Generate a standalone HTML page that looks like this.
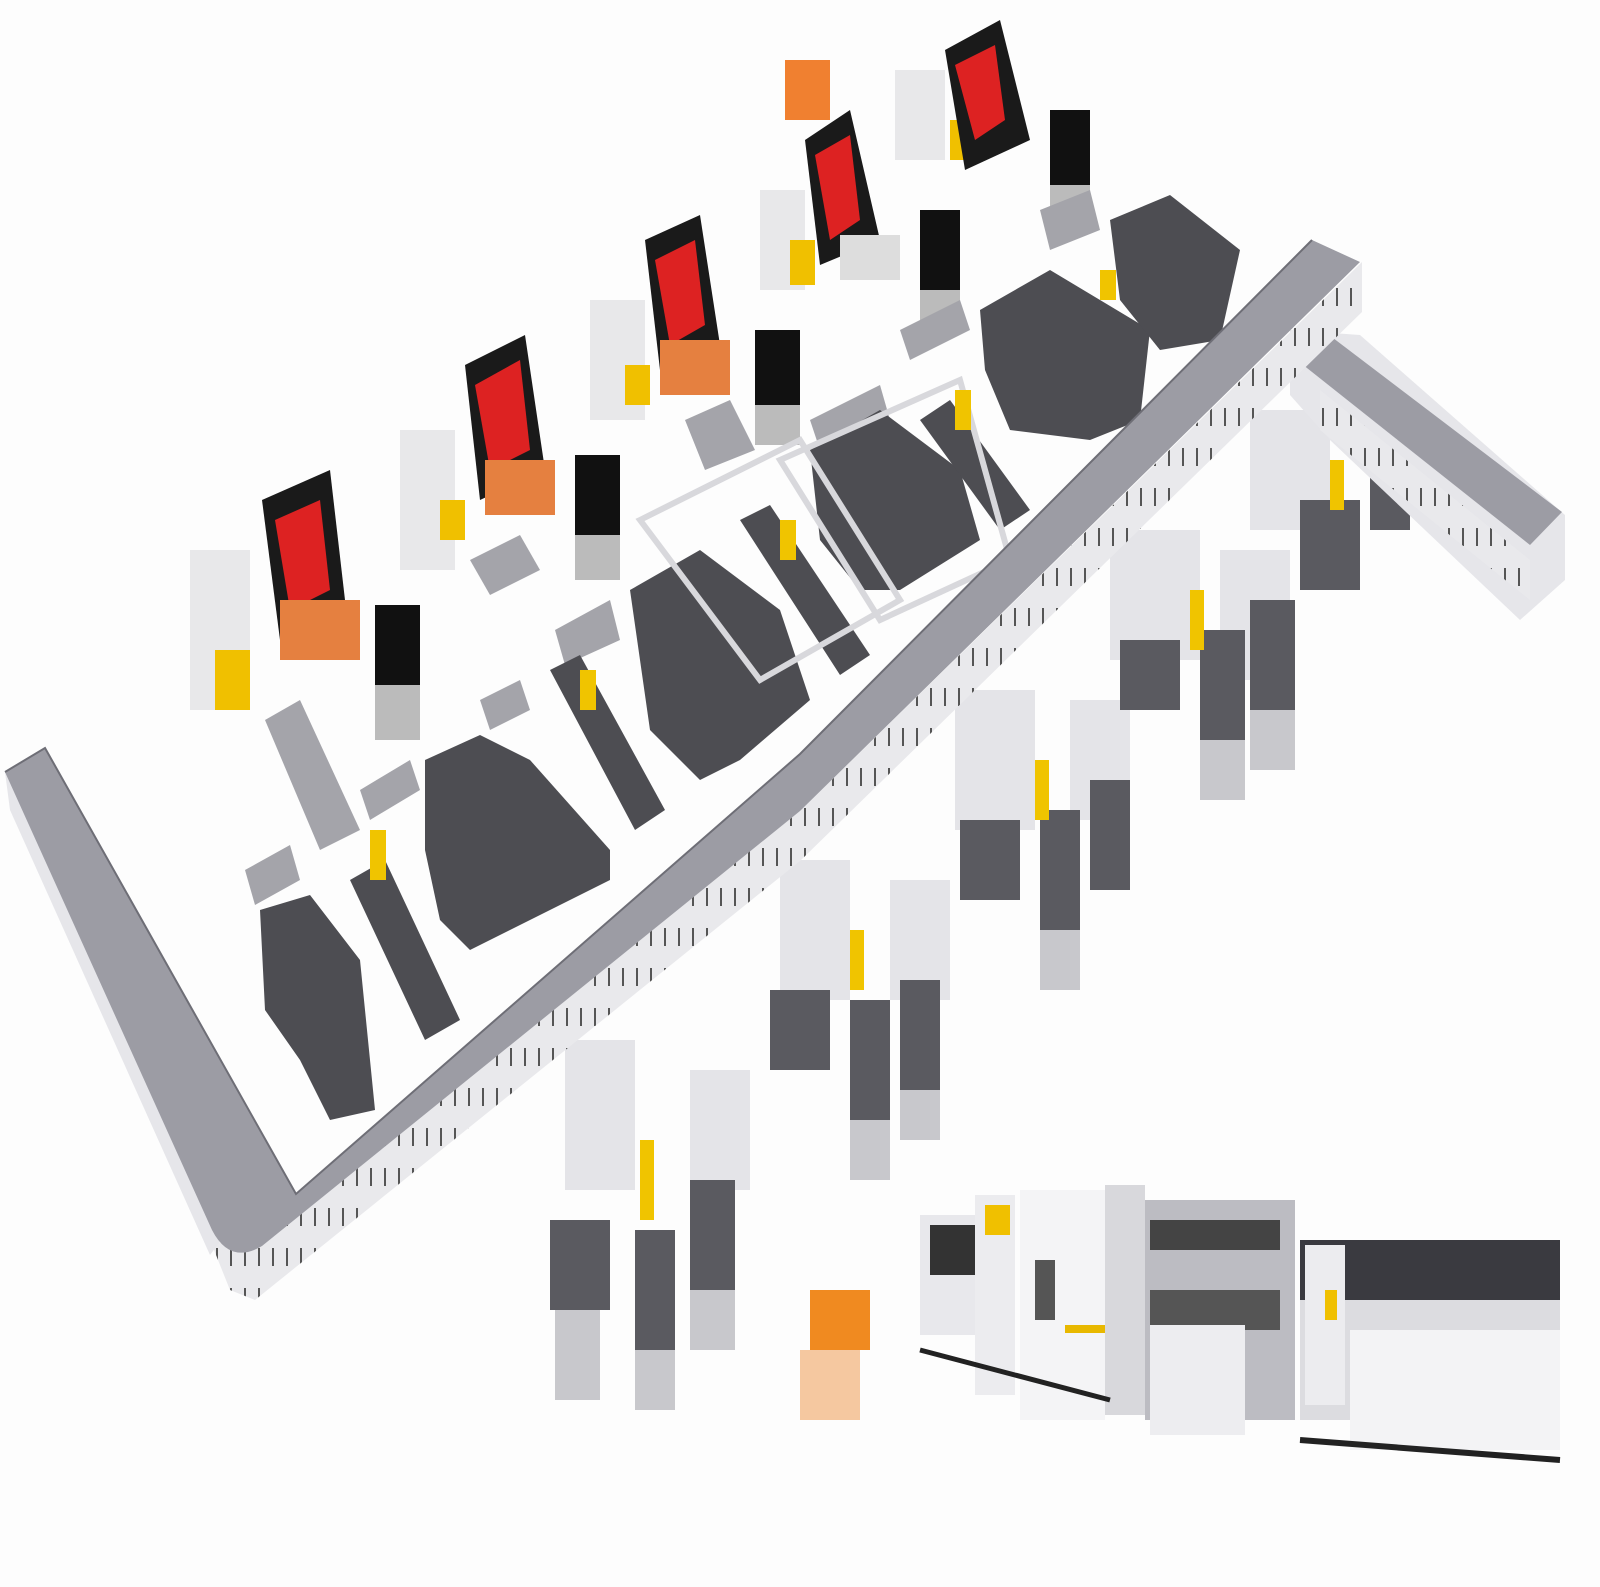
<!DOCTYPE html>
<html><head><meta charset="utf-8"><style>html,body{margin:0;padding:0;background:#fdfdfd}svg{display:block}</style></head>
<body>
<svg width="1600" height="1587" viewBox="0 0 1600 1587" xmlns="http://www.w3.org/2000/svg">
<rect width="1600" height="1587" fill="#fdfdfd"/>
<defs>
<pattern id="tk" width="14" height="40" patternUnits="userSpaceOnUse"><rect width="14" height="40" fill="#e9e9ec"/><rect x="6" y="8" width="2" height="18" fill="#555"/></pattern>
</defs>
<!-- top row stations: seats -->
<g>
<g transform="translate(0,0)">
<rect x="190" y="550" width="60" height="160" fill="#e8e8ea"/>
<rect x="215" y="650" width="35" height="60" fill="#f0c000"/>
<path d="M262 500 L330 470 L345 600 L280 640 Z" fill="#1a1a1a"/>
<path d="M275 520 L320 500 L330 590 L290 610 Z" fill="#d22"/>
<rect x="280" y="600" width="80" height="60" fill="#e58040"/>
<rect x="375" y="605" width="45" height="80" fill="#111"/>
<rect x="375" y="685" width="45" height="55" fill="#bbb"/>
</g>
<g>
<rect x="400" y="430" width="55" height="140" fill="#e8e8ea"/>
<rect x="440" y="500" width="25" height="40" fill="#f0c000"/>
<path d="M465 365 L525 335 L545 470 L480 500 Z" fill="#1a1a1a"/>
<path d="M475 385 L520 360 L530 450 L490 470 Z" fill="#d22"/>
<rect x="485" y="460" width="70" height="55" fill="#e58040"/>
<rect x="575" y="455" width="45" height="80" fill="#111"/>
<rect x="575" y="535" width="45" height="45" fill="#bbb"/>
</g>
<g>
<rect x="590" y="300" width="55" height="120" fill="#e8e8ea"/>
<rect x="625" y="365" width="25" height="40" fill="#f0c000"/>
<path d="M645 240 L700 215 L720 345 L660 370 Z" fill="#1a1a1a"/>
<path d="M655 260 L695 240 L705 325 L670 345 Z" fill="#d22"/>
<rect x="660" y="340" width="70" height="55" fill="#e58040"/>
<rect x="755" y="330" width="45" height="75" fill="#111"/>
<rect x="755" y="405" width="45" height="40" fill="#bbb"/>
</g>
<g>
<rect x="760" y="190" width="45" height="100" fill="#e8e8ea"/>
<rect x="790" y="240" width="25" height="45" fill="#f0c000"/>
<rect x="785" y="60" width="45" height="60" fill="#f08030"/>
<path d="M805 140 L850 110 L880 240 L820 265 Z" fill="#1a1a1a"/>
<path d="M815 155 L850 135 L860 220 L830 240 Z" fill="#d22"/>
<rect x="840" y="235" width="60" height="45" fill="#ddd"/>
<rect x="920" y="210" width="40" height="80" fill="#111"/>
<rect x="920" y="290" width="40" height="45" fill="#bbb"/>
</g>
<g>
<rect x="895" y="70" width="50" height="90" fill="#e8e8ea"/>
<rect x="950" y="120" width="25" height="40" fill="#f0c000"/>
<path d="M945 50 L1000 20 L1030 140 L965 170 Z" fill="#1a1a1a"/>
<path d="M955 65 L995 45 L1005 120 L975 140 Z" fill="#d22"/>
<rect x="1050" y="110" width="40" height="75" fill="#111"/>
<rect x="1050" y="185" width="40" height="40" fill="#bbb"/>
</g>
</g>
<!-- middle row gray bars and dark blocks -->
<g fill="#a4a4aa">
<polygon points="265,720 300,700 360,830 320,850"/>
<polygon points="360,790 410,760 420,790 370,820"/>
<polygon points="245,870 290,845 300,880 255,905"/>
<polygon points="470,560 520,535 540,570 490,595"/>
<polygon points="480,700 520,680 530,710 490,730"/>
<polygon points="555,630 610,600 620,640 565,665"/>
<polygon points="685,420 730,400 755,450 705,470"/>
<polygon points="810,420 880,385 890,420 820,450"/>
<polygon points="900,330 960,300 970,330 910,360"/>
<polygon points="1040,210 1090,190 1100,230 1050,250"/>
</g>
<g fill="#4d4d52">
<path d="M260 910 L310 895 L360 960 L375 1110 L330 1120 L300 1060 L265 1010 Z"/>
<polygon points="350,880 385,860 460,1020 425,1040"/>
<path d="M425 760 L480 735 L530 760 L610 850 L610 880 L470 950 L440 920 L425 850 Z"/>
<polygon points="550,670 580,655 665,810 635,830"/>
<path d="M630 590 L700 550 L780 610 L810 700 L740 760 L700 780 L650 730 Z"/>
<polygon points="740,520 770,505 870,655 840,675"/>
<path d="M810 450 L880 410 L960 470 L980 540 L900 590 L860 590 L820 540 Z"/>
<path d="M980 310 L1050 270 L1150 330 L1140 420 L1090 440 L1010 430 L985 370 Z"/>
<polygon points="920,420 950,400 1030,510 1000,530"/>
<path d="M1110 220 L1170 195 L1240 250 L1220 340 L1160 350 L1120 300 Z"/>
</g>
<!-- white frames around middle stations -->
<g fill="none" stroke="#d8d8dc" stroke-width="6">
<polygon points="640,520 800,440 900,600 760,680"/>
<polygon points="780,460 960,380 1010,560 880,620"/>
</g>
<!-- lower right stations -->
<g>
<g fill="#e4e4e8"><rect x="1250" y="410" width="80" height="120"/><rect x="1110" y="530" width="90" height="130"/><rect x="1220" y="550" width="70" height="130"/><rect x="955" y="690" width="80" height="140"/><rect x="1070" y="700" width="60" height="120"/><rect x="780" y="860" width="70" height="140"/><rect x="890" y="880" width="60" height="120"/><rect x="565" y="1040" width="70" height="150"/><rect x="690" y="1070" width="60" height="120"/></g>
<g fill="#5a5a60"><rect x="1300" y="500" width="60" height="90"/><rect x="1370" y="430" width="40" height="100"/><rect x="1120" y="640" width="60" height="70"/><rect x="1200" y="630" width="45" height="110"/><rect x="1250" y="600" width="45" height="110"/><rect x="960" y="820" width="60" height="80"/><rect x="1040" y="810" width="40" height="120"/><rect x="1090" y="780" width="40" height="110"/><rect x="770" y="990" width="60" height="80"/><rect x="850" y="1000" width="40" height="120"/><rect x="900" y="980" width="40" height="110"/><rect x="550" y="1220" width="60" height="90"/><rect x="635" y="1230" width="40" height="120"/><rect x="690" y="1180" width="45" height="110"/></g>
<g fill="#c8c8cc"><rect x="1200" y="740" width="45" height="60"/><rect x="1250" y="710" width="45" height="60"/><rect x="1040" y="930" width="40" height="60"/><rect x="850" y="1120" width="40" height="60"/><rect x="900" y="1090" width="40" height="50"/><rect x="635" y="1350" width="40" height="60"/><rect x="690" y="1290" width="45" height="60"/><rect x="555" y="1310" width="45" height="90"/></g>
<g fill="#f0c400"><rect x="1330" y="460" width="14" height="50"/><rect x="1190" y="590" width="14" height="60"/><rect x="1035" y="760" width="14" height="60"/><rect x="850" y="930" width="14" height="60"/><rect x="640" y="1140" width="14" height="80"/><rect x="370" y="830" width="16" height="50"/><rect x="580" y="670" width="16" height="40"/><rect x="780" y="520" width="16" height="40"/><rect x="955" y="390" width="16" height="40"/><rect x="1100" y="270" width="16" height="30"/></g>
</g>
<!-- orange bottom figure -->
<rect x="810" y="1290" width="60" height="60" fill="#f08a20"/>
<rect x="800" y="1350" width="60" height="70" fill="#f5c8a0"/>
<!-- conveyor right branch -->
<polygon points="1290,330 1360,335 1565,515 1565,580 1520,620 1330,440 1290,395" fill="#e6e6ea"/>
<polygon points="1300,345 1335,335 1560,515 1530,535" fill="url(#tk)" opacity="0"/>
<polygon points="1278,345 1312,322 1562,512 1530,545" fill="#9c9ca4"/>
<polygon points="1320,390 1530,560 1530,600 1320,430" fill="url(#tk)"/>
<!-- conveyor side panel (diagonal) -->
<polygon points="250,1250 800,811 1362,262 1362,312 800,861 255,1300 230,1290 210,1240" fill="url(#tk)"/>
<!-- left leg side -->
<polygon points="5,772 25,770 225,1235 210,1255 10,810" fill="#e6e6ea"/>
<!-- conveyor top surface -->
<path d="M5 772 L45 748 L296 1194 L800 754 L1312 240 L1360 262 L800 811 L262 1246 Q230 1265 212 1230 Z" fill="#9c9ca4"/>
<path d="M5 772 L45 748 L296 1194 L800 754 L1312 240" fill="none" stroke="#6e6e76" stroke-width="2"/>
<!-- bottom right machines -->
<g>
<rect x="920" y="1215" width="80" height="120" fill="#e8e8ec"/>
<rect x="930" y="1225" width="45" height="50" fill="#333"/>
<rect x="975" y="1195" width="40" height="200" fill="#ececef"/>
<rect x="985" y="1205" width="25" height="30" fill="#f0c000"/>
<rect x="1020" y="1190" width="85" height="230" fill="#f4f4f6"/>
<rect x="1035" y="1260" width="20" height="60" fill="#555"/>
<rect x="1065" y="1325" width="40" height="8" fill="#e8b800"/>
<rect x="1105" y="1185" width="40" height="230" fill="#d8d8dc"/>
<rect x="1145" y="1200" width="150" height="220" fill="#bcbcc2"/>
<rect x="1150" y="1220" width="130" height="30" fill="#444"/>
<rect x="1150" y="1290" width="130" height="40" fill="#555"/>
<rect x="1150" y="1325" width="95" height="110" fill="#ededf0"/>
<rect x="1300" y="1240" width="260" height="60" fill="#3a3a40"/>
<rect x="1300" y="1300" width="260" height="120" fill="#dcdce0"/>
<rect x="1350" y="1330" width="210" height="120" fill="#f3f3f5"/>
<rect x="1305" y="1245" width="40" height="160" fill="#ececef"/>
<rect x="1325" y="1290" width="12" height="30" fill="#f0c000"/>
<path d="M1300 1440 L1560 1460" stroke="#222" stroke-width="6"/>
<path d="M920 1350 L1110 1400" stroke="#222" stroke-width="5"/>
</g>
</svg>
</body></html>
